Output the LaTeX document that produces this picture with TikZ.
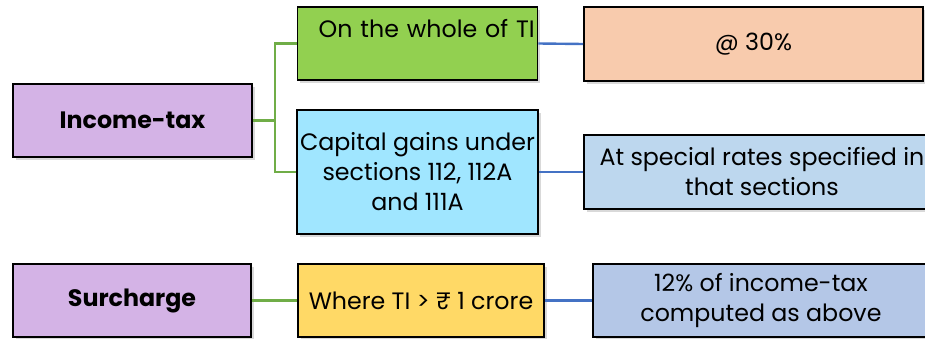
\documentclass[tikz,border=0pt]{standalone}
\usepackage{fontspec}
\setmainfont{Poppins}
\usetikzlibrary{shadows}
\definecolor{headpurple}{HTML}{D4B3E6}
\definecolor{wholegreen}{HTML}{92D050}
\definecolor{gainscyan}{HTML}{A0E6FF}
\definecolor{rateorange}{HTML}{F8CBAD}
\definecolor{specialblue}{HTML}{BDD7EE}
\definecolor{whereyellow}{HTML}{FFD966}
\definecolor{pctblue}{HTML}{B4C7E7}
\definecolor{linkgreen}{HTML}{70AD47}
\definecolor{linkblue}{HTML}{4472C4}
\tikzset{
    box/.style={draw=black, line width=1.4pt, align=center, inner sep=2pt,
        font=\fontsize{17.8}{22.5}\selectfont,
        drop shadow={shadow xshift=2.2pt, shadow yshift=-2.2pt, opacity=.3}},
    glink/.style={draw=linkgreen, line width=1.8pt},
    blink/.style={draw=linkblue, line width=1.8pt}
}

\begin{document}
\begin{tikzpicture}[x=0.75pt,y=-0.75pt]
    \useasboundingbox (0,0) rectangle (925,339);
    \node[box, fill=headpurple, minimum width=179.25pt, minimum height=54.75pt] (it) at (132.5,120.5) {\bfseries Income-tax};
    \node[box, fill=wholegreen, minimum width=179.25pt, minimum height=54.75pt, text width=176pt, align=right] (whole) at (417.5,43.5) {On the whole of TI\\\mbox{}};
    \node[box, fill=gainscyan, minimum width=179.25pt, minimum height=93pt] (cg) at (417.5,172) {Capital gains under\\sections 112, 112A\\and 111A};
    \node[box, fill=rateorange, minimum width=254.25pt, minimum height=55.5pt, anchor=west] (rate) at (583,44) {@ 30\%};
    \node[box, fill=specialblue, minimum width=267pt, minimum height=55.5pt, anchor=west] (special) at (583,172) {At special rates specified in\\that sections};

    \node[box, fill=headpurple, minimum width=178.5pt, minimum height=54.75pt] (sur) at (132,300.5) {\bfseries Surcharge};
    \node[box, fill=whereyellow, minimum width=184.5pt, minimum height=54.75pt] (where) at (421,300.5) {Where TI > ₹ 1 crore};
    \node[box, fill=pctblue, minimum width=252pt, minimum height=54.75pt, anchor=west] (pct) at (592,300.5) {12\% of income-tax\\computed as above};

    \coordinate (fork) at (275,120.5);
    \draw[glink] (it.east) -- (fork) |- (whole.west);
    \draw[glink] (fork) |- (cg.west);
    \draw[blink] (whole.east) -- (rate.west);
    \draw[blink] (cg.east) -- (special.west);
    \draw[glink] (sur) -- (where);
    \draw[blink] (where) -- (pct);
\end{tikzpicture}
\end{document}
